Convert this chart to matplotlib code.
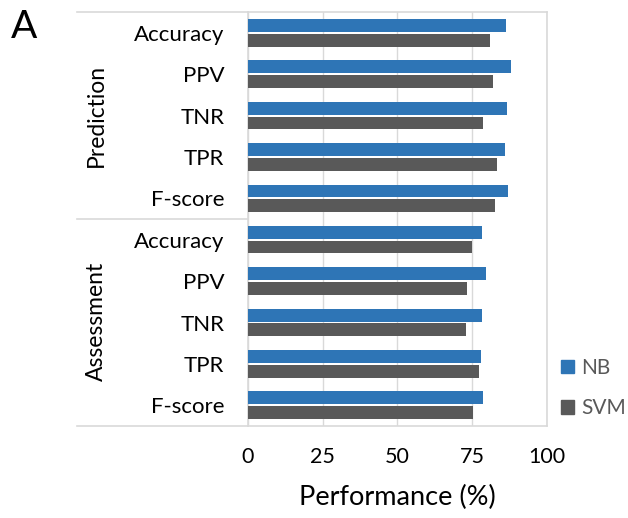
import numpy as np
import matplotlib
matplotlib.use("Agg")
import matplotlib.pyplot as plt
from matplotlib.lines import Line2D
from matplotlib.patches import Patch

plt.rcParams['font.family'] = ['Lato', 'DejaVu Sans']

# data
groups = ['Prediction', 'Assessment']
metrics = ['Accuracy', 'PPV', 'TNR', 'TPR', 'F-score']
nb = [86.4, 88.1, 86.7, 85.9, 86.9, 78.3, 79.7, 78.5, 78.1, 78.8]
svm = [81.1, 82.0, 78.7, 83.5, 82.7, 75.1, 73.3, 73.1, 77.4, 75.3]
xticks = [0, 25, 50, 75, 100]

c_nb = '#2E75B6'
c_svm = '#595959'
c_grid = '#D9D9D9'

W, H = 628, 518
fig = plt.figure(figsize=(W / 100, H / 100), dpi=100)
ax = fig.add_axes([248 / W, 1 - 426 / H, (546.7 - 248) / W, (426 - 12.3) / H])

y = np.arange(len(nb))
bh = 0.31
ax.barh(y - 0.18, nb, height=bh, color=c_nb, label='NB', zorder=3)
ax.barh(y + 0.175, svm, height=bh, color=c_svm, label='SVM', zorder=3)

ax.set_xlim(0, 100)
ax.set_ylim(len(nb) - 0.5, -0.5)
ax.set_xticks(xticks)
ax.set_xticklabels([str(t) for t in xticks], fontsize=15.5)
ax.set_yticks(y)
ax.set_yticklabels(metrics * 2, fontsize=16)
ax.tick_params(axis='y', length=0, pad=17)
ax.tick_params(axis='x', length=0, pad=15)
ax.grid(axis='x', color=c_grid, lw=1, zorder=0)
for s in ax.spines.values():
    s.set_color(c_grid)
    s.set_linewidth(1.2)

ax.set_xlabel('Performance (%)', fontsize=19.5, labelpad=13)

# multi-level category lines
x0 = 77 / W
xr = 248 / W
for yy in [12.3, 219, 426]:
    fig.add_artist(Line2D([x0, xr], [1 - yy / H, 1 - yy / H], color=c_grid, lw=1.2))

fig.text(96 / W, 1 - 115 / H, groups[0], rotation=90, ha='center', va='center', fontsize=16.5)
fig.text(96 / W, 1 - 321 / H, groups[1], rotation=90, ha='center', va='center', fontsize=16.5)

fig.text(11 / W, 1 - 27 / H, 'A', fontsize=28, ha='left', va='center')

handles = [Patch(color=c_nb), Patch(color=c_svm)]
fig.legend(handles, ['NB', 'SVM'], loc='center left', bbox_to_anchor=(561 / W, 1 - 388 / H),
           frameon=False, fontsize=15, handlelength=0.62, handleheight=0.62, borderpad=0,
           borderaxespad=0, handletextpad=0.34, labelspacing=1.0, labelcolor='#595959')

fig.savefig('out.png', dpi=100)
